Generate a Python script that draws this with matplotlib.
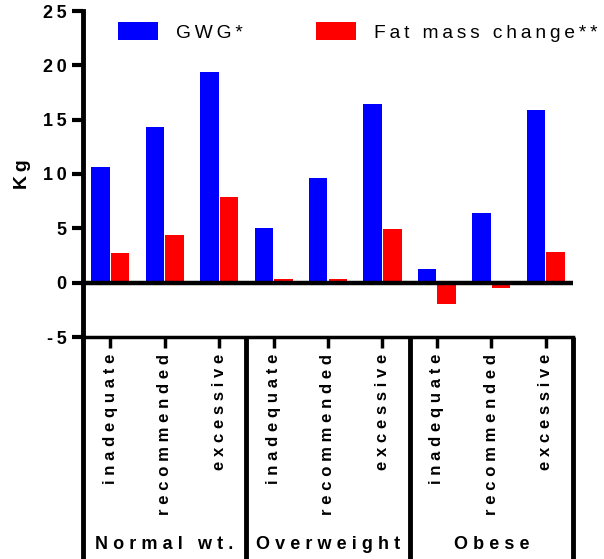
import numpy as np
import matplotlib
matplotlib.use("Agg")
import matplotlib.pyplot as plt
import matplotlib.transforms as mtransforms

plt.rcParams['font.family'] = ['Liberation Sans', 'DejaVu Sans']

groups = ["Normal wt.", "Overweight", "Obese"]
categories = ["inadequate", "recommended", "excessive"]
gwg = [10.6, 14.3, 19.4, 5.0, 9.6, 16.4, 1.3, 6.4, 15.9]
fat_mass = [2.7, 4.4, 7.9, 0.3, 0.3, 4.9, -2.0, -0.5, 2.8]
yticks = [-5, 0, 5, 10, 15, 20, 25]


def spaced(s, sep="\u2009"):
    # Prism-style letter spacing
    return sep.join(s)


fig = plt.figure(figsize=(6.04, 5.59), dpi=100)
ax = fig.add_axes([83 / 604, 1 - 337 / 559, 490 / 604, 326 / 559])

x = np.arange(len(gwg)) + 0.5
w = 0.34
ax.bar(x - 0.18, gwg, w, color="#0000ff", label=spaced("GWG*"))
ax.bar(x + 0.18, fat_mass, w, color="#ff0000", label=spaced("Fat mass change**"))

ax.axhline(0, color="black", lw=3.2, zorder=3)
ax.set_xlim(0, 9)
ax.set_ylim(-5, 25)

for side in ["top", "right"]:
    ax.spines[side].set_visible(False)
ax.spines["left"].set_linewidth(3.5)
ax.spines["bottom"].set_linewidth(2.5)

ax.set_yticks(yticks)
ax.set_yticklabels([spaced(str(t)) for t in yticks], fontsize=13, fontweight="bold")
ax.tick_params(axis="y", width=3, length=8, pad=4)
ax.set_ylabel(spaced("Kg"), fontsize=14, fontweight="bold", labelpad=8)

ax.set_xticks(x)
ax.set_xticklabels([spaced(c, "\u2009\u200a") for c in categories * 3], rotation=90,
                   fontsize=12, fontweight="bold", va="top")
ax.tick_params(axis="x", width=2.5, length=8, pad=4)

# group separators below the axis
trans = mtransforms.blended_transform_factory(ax.transData, ax.transAxes)
for gx in [0, 3, 6, 9]:
    ax.plot([gx, gx], [0, -0.7], color="black", lw=3.5, transform=trans,
            clip_on=False, solid_capstyle="butt")
for i, g in enumerate(groups):
    ax.text(3 * i + 1.5, -0.638, spaced(g, "\u2009\u200a"), transform=trans,
            ha="center", va="center", fontsize=13, fontweight="bold")

ax.legend(loc="upper left", bbox_to_anchor=(118 / 604, 1 - 22 / 559),
          bbox_transform=fig.transFigure, ncol=2, frameon=False,
          fontsize=13.8, handlelength=2.1, handleheight=1.1, columnspacing=3.8,
          handletextpad=0.95, borderpad=0, borderaxespad=0)

plt.savefig("out.png", dpi=100)
